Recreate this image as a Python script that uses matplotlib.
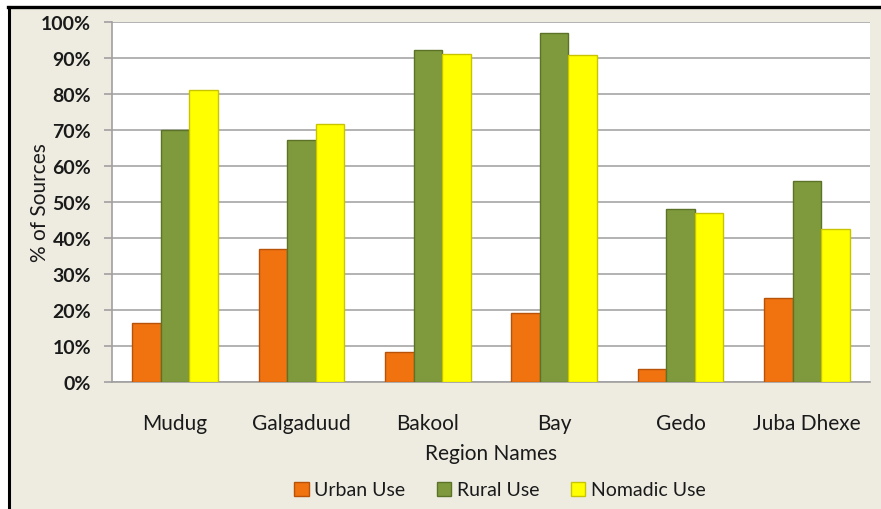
import matplotlib.pyplot as plt
import numpy as np
from matplotlib.patches import Rectangle
from matplotlib.ticker import PercentFormatter

regions = ['Mudug', 'Galgaduud', 'Bakool', 'Bay', 'Gedo', 'Juba Dhexe']
urban = [16.5, 36.9, 8.3, 19.3, 3.6, 23.3]
rural = [70.1, 67.2, 92.2, 96.9, 48.0, 55.9]
nomadic = [81.1, 71.7, 91.1, 90.7, 47.0, 42.5]
series_names = ['Urban Use', 'Rural Use', 'Nomadic Use']
y_ticks = [0, 10, 20, 30, 40, 50, 60, 70, 80, 90, 100]

face_colors = ['#F07310', '#7E9A3D', '#FFFF00']
edge_colors = ['#B85208', '#5B7227', '#C9C400']
bg = '#EEECE1'
txt = '#1a1a1a'

plt.rcParams['font.family'] = ['Lato', 'DejaVu Sans']

fig = plt.figure(figsize=(8.81, 5.10), dpi=100)
fig.patch.set_facecolor('white')

# beige chart area with black frame on top and left
fig.patches.append(Rectangle((10 / 881, 0), 1, (510 - 9) / 510, transform=fig.transFigure,
                             facecolor=bg, edgecolor='none', zorder=-2))
fig.add_artist(plt.Line2D([9 / 881, 9 / 881], [0, (510 - 7.5) / 510], color='black', lw=2.2,
                          transform=fig.transFigure))
fig.add_artist(plt.Line2D([8 / 881, 1], [(510 - 7.5) / 510, (510 - 7.5) / 510], color='black', lw=2.4,
                          transform=fig.transFigure))

ax = fig.add_axes([112 / 881, (510 - 383.3) / 510, (870 - 112) / 881, (383.3 - 22.7) / 510])
ax.set_facecolor('white')

x = np.arange(len(regions))
w = 0.226
for i, vals in enumerate([urban, rural, nomadic]):
    ax.bar(x + (i - 1) * w, vals, width=w, color=face_colors[i], edgecolor=edge_colors[i],
           linewidth=1.0, label=series_names[i], zorder=3)

ax.set_xlim(-0.5, len(regions) - 0.5)
ax.set_ylim(0, 100)
ax.set_yticks(y_ticks)
ax.yaxis.set_major_formatter(PercentFormatter(decimals=0))
ax.grid(axis='y', color='#A6A6A6', linewidth=1.2, zorder=0)
ax.set_axisbelow(True)

for side in ['top', 'right']:
    ax.spines[side].set_visible(False)
ax.spines['left'].set_color('#A0A0A0')
ax.spines['bottom'].set_color('#A0A0A0')
ax.spines['left'].set_linewidth(1.2)
ax.spines['bottom'].set_linewidth(1.2)

ax.set_xticks(x)
ax.set_xticklabels(regions, fontsize=15, color=txt)
ax.tick_params(axis='x', length=0, pad=22)
ax.tick_params(axis='y', length=6, color='#A0A0A0', width=1.2, labelsize=14, pad=9)
for lbl in ax.get_yticklabels():
    lbl.set_fontweight('bold')
    lbl.set_color(txt)

ax.set_xlabel('Region Names', fontsize=15, color=txt, labelpad=7)
ax.set_ylabel('% of Sources', fontsize=15, color=txt)
ax.yaxis.set_label_coords((50.5 - 112) / 758, 0.5)

leg = fig.legend(loc='center', bbox_to_anchor=(500 / 881, (510 - 491) / 510), ncol=3, frameon=False,
                 fontsize=14, handlelength=0.75, handleheight=0.75, handletextpad=0.3, columnspacing=1.6)
for t in leg.get_texts():
    t.set_color(txt)

fig.savefig('out.png', dpi=100, facecolor=fig.get_facecolor())
